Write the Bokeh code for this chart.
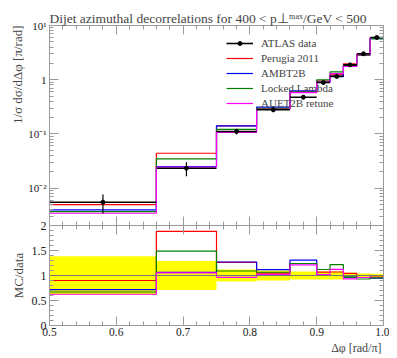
from bokeh.plotting import figure
from bokeh.layouts import column
from bokeh.models import (Range1d, LinearAxis, LogAxis, Span, Legend, LegendItem, Title,
                          FixedTicker, CustomJSTickFormatter, ColumnDataSource)
from bokeh.embed import file_html
from bokeh.resources import INLINE

# ---- data ----
edges = [0.5, 0.66, 0.75, 0.81, 0.86, 0.90, 0.92, 0.94, 0.96, 0.98, 1.0]
atlas = [0.00549, 0.0233, 0.111, 0.279, 0.475, 0.887, 1.15, 1.88, 3.01, 6.01]
atlas_err = [0.0021, 0.0068, 0.0133, 0.028, 0.039, 0.071, 0.092, 0.103, 0.120, 0.210]
perugia2011 = [0.00494, 0.0439, 0.140, 0.292, 0.589, 0.946, 1.23, 1.96, 2.89, 5.83]
ambt2b = [0.00395, 0.0248, 0.141, 0.312, 0.622, 0.905, 1.15, 1.82, 2.89, 5.69]
locked_lambda = [0.00368, 0.0347, 0.121, 0.297, 0.589, 0.993, 1.40, 1.82, 2.80, 5.71]
auet2b = [0.00343, 0.0245, 0.107, 0.285, 0.575, 0.905, 1.29, 1.75, 2.89, 6.01]

x_major = [0.5, 0.6, 0.7, 0.8, 0.9, 1.0]
x_minor = [0.52, 0.54, 0.56, 0.58, 0.62, 0.64, 0.66, 0.68, 0.72, 0.74, 0.76, 0.78,
           0.82, 0.84, 0.86, 0.88, 0.92, 0.94, 0.96, 0.98]
y_major = [0.01, 0.1, 1, 10]
y_minor = [m * d for d in (0.001, 0.01, 0.1, 1, 10) for m in (2, 3, 4, 5, 6, 7, 8, 9)]
r_major = [0, 0.5, 1, 1.5, 2]
r_minor = [0.1, 0.2, 0.3, 0.4, 0.6, 0.7, 0.8, 0.9, 1.1, 1.2, 1.3, 1.4, 1.6, 1.7, 1.8, 1.9]

series = [("Perugia 2011", perugia2011, "#ff0000"),
          ("AMBT2B", ambt2b, "#0000ff"),
          ("Locked Lambda", locked_lambda, "#008000"),
          ("AUET2B retune", auet2b, "#ff00ff")]

FONT = "Liberation Serif"
AX = "#9a9a9a"

centers = [(a + b) / 2 for a, b in zip(edges[:-1], edges[1:])]


def steps(vals):
    return list(vals) + [vals[-1]]


empty = CustomJSTickFormatter(code="return '';")
logfmt = CustomJSTickFormatter(code="""
const e = Math.round(Math.log10(tick));
if (e == 0) return '1';
const sup = {'-':'\u207b','0':'\u2070','1':'\u00b9','2':'\u00b2','3':'\u00b3','4':'\u2074','5':'\u2075','6':'\u2076','7':'\u2077','8':'\u2078','9':'\u2079'};
return '10' + String(e).split('').map(c => sup[c]).join('');
""")


def style_axis(ax, labels, size="12px"):
    ax.axis_line_color = AX
    ax.major_tick_line_color = AX
    ax.minor_tick_line_color = AX
    ax.major_tick_in = 9
    ax.major_tick_out = 0
    ax.minor_tick_in = 4
    ax.minor_tick_out = 0
    ax.major_label_text_font = FONT
    ax.major_label_text_font_size = size
    ax.major_label_text_color = "#222222"
    ax.major_label_standoff = 3 if labels else 0
    if not labels:
        ax.formatter = empty


# ---- main panel ----
p = figure(frame_width=334, frame_height=200, x_range=Range1d(0.5, 1.0),
           y_range=Range1d(0.00204, 10.0), y_axis_type="log",
           output_backend="svg", toolbar_location=None,
           min_border_left=41, min_border_right=6, min_border_top=16, min_border_bottom=0)
p.grid.visible = False
p.outline_line_color = None
p.border_fill_alpha = 0

p.xaxis[0].ticker = FixedTicker(ticks=x_major, minor_ticks=x_minor)
style_axis(p.xaxis[0], False)
p.yaxis[0].ticker = FixedTicker(ticks=y_major, minor_ticks=y_minor)
p.yaxis[0].formatter = logfmt
style_axis(p.yaxis[0], True, "11px")
top = LinearAxis(ticker=FixedTicker(ticks=x_major, minor_ticks=x_minor))
style_axis(top, False)
p.add_layout(top, "above")
right = LogAxis(ticker=FixedTicker(ticks=y_major, minor_ticks=y_minor))
style_axis(right, False)
p.add_layout(right, "right")

p.title.text = "Dijet azimuthal decorrelations for 400 < p\u22a5\u1d50\u1d43\u02e3/GeV < 500"
p.title.align = "left"
p.title.text_font = FONT
p.title.text_font_size = "13.5px"
p.title.text_font_style = "normal"
p.title.offset = 0
p.title.standoff = 0

ylab = Title(text="1/\u03c3 d\u03c3/d\u0394\u03c6 [\u03c0/rad]", align="right",
             text_font=FONT, text_font_size="13px", text_font_style="normal", standoff=1)
p.add_layout(ylab, "left")

items = []
for name, vals, col in series:
    rr = p.step(edges, steps(vals), mode="after", line_color=col, line_width=1.2)
    items.append(LegendItem(label=name, renderers=[rr]))

src = ColumnDataSource(dict(x=centers, y=atlas,
                            lo=[v - e for v, e in zip(atlas, atlas_err)],
                            hi=[v + e for v, e in zip(atlas, atlas_err)],
                            l=edges[:-1], r=edges[1:]))
xerr = p.segment(x0="l", y0="y", x1="r", y1="y", source=src, line_color="black", line_width=1.6)
yerr = p.segment(x0="x", y0="lo", x1="x", y1="hi", source=src, line_color="black", line_width=1.2)
pts = p.scatter("x", "y", source=src, size=4, color="black")
items.insert(0, LegendItem(label="ATLAS data", renderers=[xerr, pts]))

leg = Legend(items=items, location=(177, 115))
leg.background_fill_alpha = 0
leg.border_line_alpha = 0
leg.padding = 0
leg.margin = 0
leg.spacing = 0
leg.glyph_width = 27
leg.glyph_height = 10
leg.label_height = 15
leg.label_standoff = 8
leg.label_text_font = FONT
leg.label_text_font_size = "11px"
p.add_layout(leg)

# ---- ratio panel ----
r = figure(frame_width=334, frame_height=100, x_range=p.x_range, y_range=Range1d(0, 2),
           output_backend="svg", toolbar_location=None, margin=(-8, 0, 0, 0),
           min_border_left=41, min_border_right=6, min_border_top=8, min_border_bottom=0)
r.grid.visible = False
r.outline_line_color = None
r.border_fill_alpha = 0
r.xaxis[0].ticker = FixedTicker(ticks=x_major, minor_ticks=x_minor)
r.xaxis[0].formatter = CustomJSTickFormatter(code="return tick.toFixed(1);")
style_axis(r.xaxis[0], True, "11.5px")
r.xaxis[0].major_label_standoff = 2
r.yaxis[0].ticker = FixedTicker(ticks=r_major, minor_ticks=r_minor)
r.yaxis[0].formatter = CustomJSTickFormatter(code="return tick.toString();")
style_axis(r.yaxis[0], True)
rtop = LinearAxis(ticker=FixedTicker(ticks=x_major, minor_ticks=x_minor))
style_axis(rtop, False)
r.add_layout(rtop, "above")
rright = LinearAxis(ticker=FixedTicker(ticks=r_major, minor_ticks=r_minor))
style_axis(rright, False)
r.add_layout(rright, "right")

band_lo = [1 - e / v for v, e in zip(atlas, atlas_err)]
band_hi = [1 + e / v for v, e in zip(atlas, atlas_err)]
r.quad(left=edges[:-1], right=edges[1:], bottom=band_lo, top=band_hi,
       fill_color="#ffff00", line_color=None)
r.add_layout(Span(location=1, dimension="width", line_color="#777777", line_width=1))
for name, vals, col in series:
    ratio = [m / d for m, d in zip(vals, atlas)]
    r.step(edges, steps(ratio), mode="after", line_color=col, line_width=1.2)

r.add_layout(Title(text="\u0394\u03c6 [rad/\u03c0]", align="right", text_font=FONT,
                   text_font_size="12px", text_font_style="normal", offset=2, standoff=0), "below")
r.add_layout(Title(text="MC/data", align="center", text_font=FONT,
                   text_font_size="13px", text_font_style="normal", standoff=6), "left")

layout = column(p, r, spacing=0, margin=(8, 0, 0, 5))
open("out.html", "w").write(file_html(layout, INLINE))
